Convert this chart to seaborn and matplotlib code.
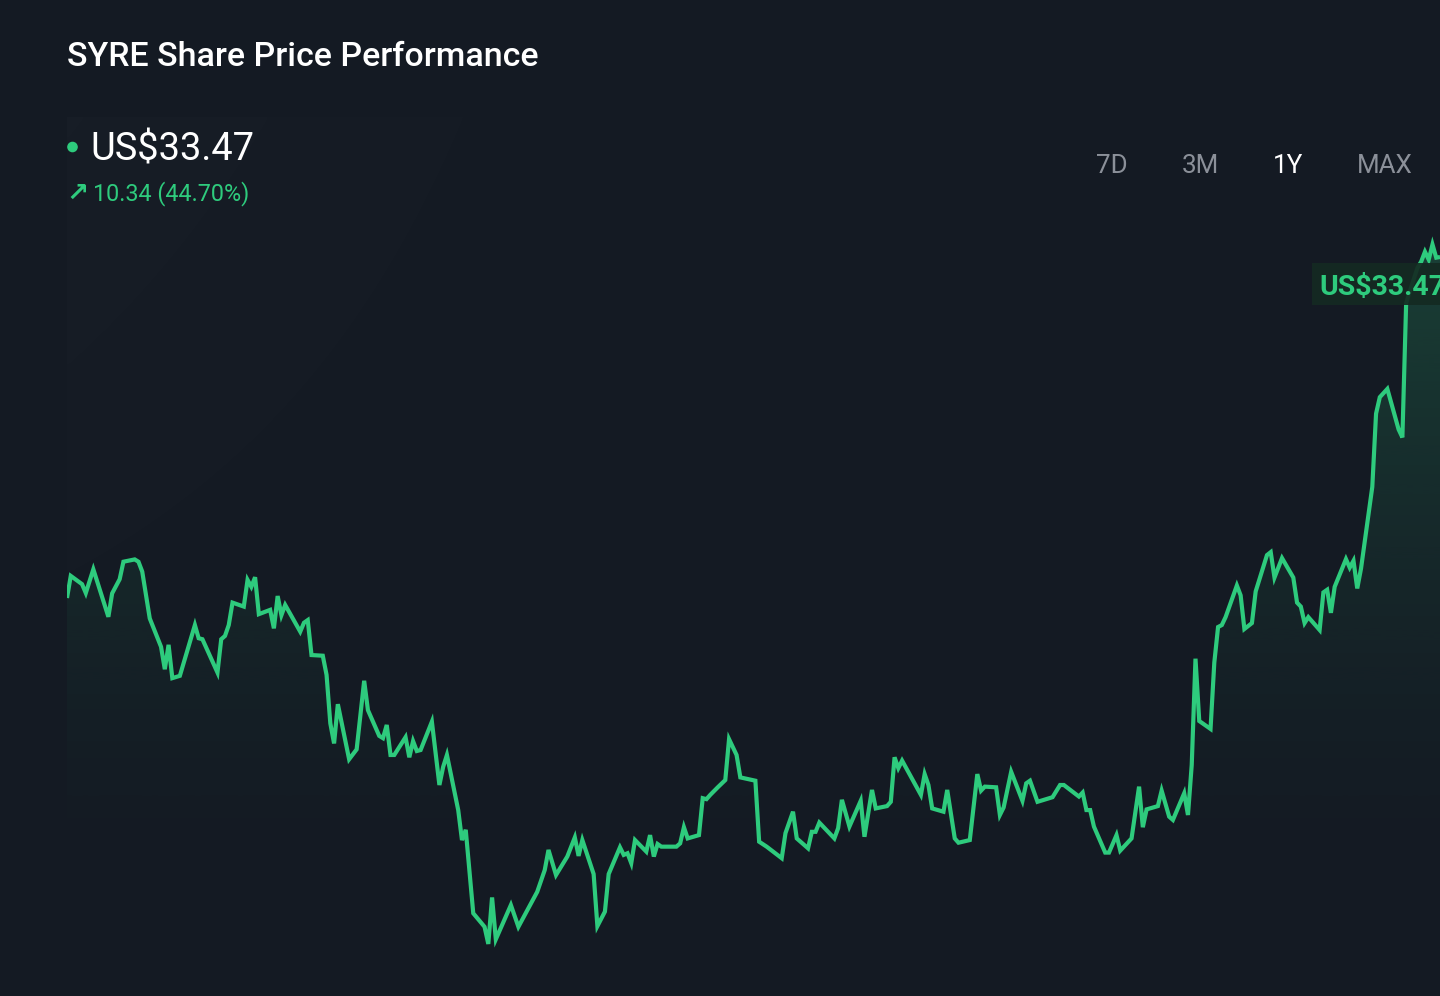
import numpy as np
import pandas as pd
import matplotlib
matplotlib.use("Agg")
import matplotlib.pyplot as plt
import seaborn as sns
from matplotlib.patches import Rectangle, Circle, Polygon

# ---------------- data ----------------
days = [0, 1, 4, 5, 7, 11, 12, 14, 15, 18, 19, 20, 22, 25, 26, 27, 28, 30, 34, 35, 36, 40, 41, 42, 43, 44,
        47, 48, 49, 50, 51, 54, 55, 56, 57, 58, 62, 63, 64, 65, 68, 69, 70, 71, 72, 75, 77, 79, 80, 83, 84,
        85, 86, 87, 90, 91, 92, 93, 94, 97, 99, 100, 101, 104,
        105, 106, 108, 111, 112, 113, 114, 118, 120, 125, 127, 128, 130, 133, 135, 136, 137, 140, 141, 143,
        144, 147, 148, 149, 150, 151, 154, 155, 156, 157, 158, 162, 163, 164, 165, 168, 169, 170, 171, 173,
        175, 176, 178, 179, 183, 184, 186, 190, 191, 193, 194, 197, 198, 199, 200, 204, 205, 206, 208, 211,
        212, 214, 215, 218, 219, 220, 221, 222, 227, 228, 229, 230, 233, 234, 236, 237, 240, 242, 243, 244,
        247, 248, 249, 251, 254, 255, 256, 258, 262, 264, 265, 269, 270, 271, 272, 273, 276, 277, 279, 280,
        283, 285, 286, 287, 290, 291, 293, 294, 297, 298, 299, 300, 301, 304, 305, 306, 307, 308, 311, 312,
        313, 315, 316, 319, 320, 321, 323, 326, 327, 328, 329, 330, 333, 334, 335, 336, 337, 340, 341, 342,
        343, 344, 347, 348, 349, 351, 354, 355, 356, 357, 359, 360, 361, 362, 363, 364, 365]

prices = [23.13, 23.80, 23.55, 23.28, 24.00, 22.56, 23.27, 23.70, 24.23, 24.30, 24.23, 23.93, 22.51, 21.65,
          20.97, 21.71, 20.70, 20.77, 22.31, 21.91, 21.88, 20.87, 21.88, 21.98, 22.31, 22.99, 22.87, 23.68,
          23.47, 23.76, 22.64, 22.77, 22.21, 23.19, 22.61, 22.92, 22.11, 22.38, 22.46, 21.40, 21.38, 20.80,
          19.33, 18.72, 19.91, 18.24, 18.54, 20.62, 19.73, 18.95, 18.88, 19.28, 18.37, 18.37, 18.91, 18.30,
          18.79, 18.49, 18.52, 19.38, 17.46, 18.01, 18.37, 16.70,
          15.79, 16.10, 13.57, 13.16, 12.64, 14.05, 12.78, 13.82, 13.16, 14.22, 14.88, 15.49, 14.73, 15.29,
          15.87, 15.31, 15.79, 14.76, 13.18, 13.62, 14.76, 15.57, 15.34, 15.39, 15.09, 15.79, 15.44, 15.94,
          15.29, 15.67, 15.59, 15.59, 15.69, 16.18, 15.84, 15.94, 17.06, 17.03, 17.16, 17.39, 17.61, 18.85,
          18.37, 17.69, 17.59, 15.74, 15.59, 15.24, 16.00, 16.65, 15.84, 15.54, 16.04, 16.04, 16.32, 15.84,
          16.15, 17.01, 16.20, 16.98, 15.89, 17.31, 16.75, 16.82, 16.95, 18.30, 17.97, 18.20, 17.16, 17.79,
          17.46, 16.75, 16.65, 17.31, 15.84, 15.71, 15.79, 17.79, 17.29, 17.41, 17.39, 16.55, 16.78, 17.86,
          16.98, 17.51, 17.59, 16.95, 17.09, 17.46, 17.46, 17.11, 17.23, 16.70, 16.70, 16.20, 15.41, 15.41,
          15.94, 15.47, 15.84, 17.41, 16.18, 16.72, 16.82, 17.29, 16.50, 16.40, 17.21, 16.55, 18.07, 21.29,
          19.40, 19.16, 21.17, 22.25, 22.31, 22.55, 23.51, 23.21, 22.19, 22.37, 23.33, 24.43, 24.52, 23.75,
          24.34, 23.75, 22.99, 22.87, 22.37, 22.55, 22.16, 23.30, 23.38, 22.68, 23.47, 24.31, 24.05, 24.26,
          23.42, 24.02, 26.50, 28.72, 29.22, 29.47, 28.24, 28.00, 32.07, 32.44, 33.14, 33.33, 33.63, 33.39,
          33.85, 33.45, 33.47]

title = "SYRE Share Price Performance"
ticker_currency = "US$"
range_buttons = ["7D", "3M", "1Y", "MAX"]
active_range = "1Y"

# ---------------- style ----------------
BG = "#141a23"
GREEN = "#2ecb7d"
GRAY = "#8b9099"

sns.set_theme(style="dark", rc={"figure.facecolor": BG, "axes.facecolor": BG})
plt.rcParams["font.family"] = ["Roboto", "DejaVu Sans"]

W, H = 1440, 996
fig = plt.figure(figsize=(W / 100, H / 100), dpi=100, facecolor=BG)

# background decoration axes (pixel coords)
bg = fig.add_axes([0, 0, 1, 1], zorder=0)
bg.set_xlim(0, W)
bg.set_ylim(H, 0)
bg.axis("off")
# faint header panel fading to the right and downward
gx = np.linspace(1, 0, 256) ** 1.2
gy = np.linspace(1, 0, 256) ** 0.8
panel = np.zeros((256, 256, 4))
panel[..., :3] = 1.0
panel[..., 3] = 0.016 * np.outer(gy, gx)
bg.imshow(panel, extent=[67, 950, 890, 117], aspect="auto", interpolation="bicubic", zorder=0)

# main chart axes
y_top_px, y_bot_px = 115, 996
ax = fig.add_axes([67 / W, 0, (W - 67) / W, (y_bot_px - y_top_px) / H], zorder=1)
ax.set_facecolor("none")

first, last = prices[0], prices[-1]
px_per_dollar = (598 - 257) / (last - first)
ymax = first + (598 - y_top_px) / px_per_dollar
ymin = first - (y_bot_px - 598) / px_per_dollar
fade_price = first - (890 - 598) / px_per_dollar

df = pd.DataFrame({"day": days, "price": prices})

# gradient fill under the line
ny = 400
yy = np.linspace(ymax, ymin, ny)
frac = np.clip((yy - fade_price) / (ymax - fade_price), 0, 1)
grad = np.zeros((ny, 1, 4))
rgb = matplotlib.colors.to_rgb(GREEN)
grad[..., 0], grad[..., 1], grad[..., 2] = rgb
grad[:, 0, 3] = 0.28 * frac ** 1.5
im = ax.imshow(grad, extent=[min(days), max(days), ymin, ymax], aspect="auto",
               interpolation="bicubic", zorder=1)
poly_xy = np.column_stack([np.r_[df["day"].values, df["day"].values[-1], df["day"].values[0]],
                           np.r_[df["price"].values, ymin, ymin]])
clip = Polygon(poly_xy, closed=True, transform=ax.transData, facecolor="none", edgecolor="none")
ax.add_patch(clip)
im.set_clip_path(clip)

sns.lineplot(data=df, x="day", y="price", ax=ax, color=GREEN, linewidth=3.0, zorder=3,
             solid_joinstyle="miter", solid_capstyle="butt")
ax.set_xlim(min(days), max(days))
ax.set_ylim(ymin, ymax)
ax.axis("off")

# overlay axes for texts (pixel coords)
ov = fig.add_axes([0, 0, 1, 1], zorder=2)
ov.set_xlim(0, W)
ov.set_ylim(H, 0)
ov.axis("off")
ov.patch.set_alpha(0)

ov.text(67, 66, title, color="white", fontsize=24.5, fontweight="medium", va="baseline", ha="left")

ov.add_patch(Circle((72.5, 147), 4.6, color=GREEN, zorder=5))
ov.text(90, 160, f"{ticker_currency}{last:.2f}", color="white", fontsize=27.4, va="baseline", ha="left")

change = last - first
pct = change / first * 100
ov.text(66, 201, "\u2197", color=GREEN, fontsize=19, fontweight="bold", va="baseline", ha="left",
        family=["DejaVu Sans"])
ov.text(93, 200.5, f"{change:.2f} ({pct:.2f}%)", color=GREEN, fontsize=16.8, va="baseline", ha="left")

btn_x = [1096, 1182, 1273, 1357]
for bx, lab in zip(btn_x, range_buttons):
    ov.text(bx, 173, lab, color="white" if lab == active_range else GRAY, fontsize=18.7,
            va="baseline", ha="left")

# last-price tag (clipped by the right edge, as in the reference)
ov.add_patch(Rectangle((1312, 263), 140, 42, facecolor="#142a22", edgecolor="none", alpha=0.92, zorder=4))
ov.text(1319, 295, f"{ticker_currency}{last:.2f}", color=GREEN, fontsize=20.5, fontweight="bold",
        va="baseline", ha="left", zorder=5)

fig.savefig("out.png", dpi=100, facecolor=BG)
